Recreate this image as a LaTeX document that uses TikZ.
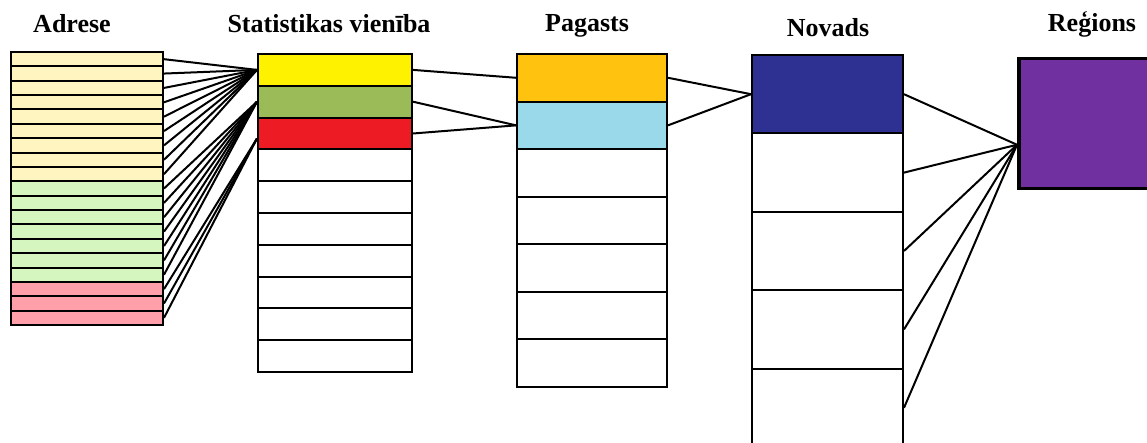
\documentclass[tikz,border=0pt]{standalone}
\usepackage{fontspec}
\setmainfont{Liberation Serif}
\usepackage{xcolor}
\usepackage{tikz}
\definecolor{adrY}{HTML}{FFF5C0}
\definecolor{adrG}{HTML}{D5F7BF}
\definecolor{adrR}{HTML}{FF9FAA}
\definecolor{statY}{HTML}{FFF200}
\definecolor{statG}{HTML}{9BBB59}
\definecolor{statR}{HTML}{ED1C24}
\definecolor{pagO}{HTML}{FFC20E}
\definecolor{pagB}{HTML}{99D9EA}
\definecolor{novB}{HTML}{2E3192}
\definecolor{regP}{HTML}{7030A0}
\tikzset{
  cella/.style={draw, rectangle, inner sep=0pt, line width=2pt},
  adr/.style={cella, minimum width=152pt, minimum height=14.37pt},
  stat/.style={cella, minimum width=154pt, minimum height=31.8pt},
  pag/.style={cella, minimum width=150pt, minimum height=47.57pt},
  nov/.style={cella, minimum width=151pt, minimum height=78.4pt},
  titolo/.style={font=\fontsize{26}{30}\selectfont\bfseries, anchor=base, inner sep=0pt},
  linea/.style={line width=2pt}
}

\begin{document}
\begin{tikzpicture}[x=1pt, y=-1pt]
    \useasboundingbox (0,0) rectangle (1147,443);
    \clip (0,0) rectangle (1147,443);

    % Titoli
    \node[titolo] (tAdr) at (72,33) {Adrese};
    \node[titolo] (tStat) at (329,33) {Statistikas vienība};
    \node[titolo] (tPag) at (587,32) {Pagasts};
    \node[titolo] (tNov) at (828,37) {Novads};
    \node[titolo] (tReg) at (1092,32) {Reģions};

    % Adrese
    \foreach \i in {1,...,9} \node[adr, fill=adrY] (a\i) at (87,{52+14.37*(\i-0.5)}) {};
    \foreach \i in {10,...,16} \node[adr, fill=adrG] (a\i) at (87,{52+14.37*(\i-0.5)}) {};
    \foreach \i in {17,18,19} \node[adr, fill=adrR] (a\i) at (87,{52+14.37*(\i-0.5)}) {};

    % Statistikas vieniba
    \node[stat, fill=statY] (s1) at (335,{54+31.8*0.5}) {};
    \node[stat, fill=statG] (s2) at (335,{54+31.8*1.5}) {};
    \node[stat, fill=statR] (s3) at (335,{54+31.8*2.5}) {};
    \foreach \i in {4,...,10} \node[stat, fill=white] (s\i) at (335,{54+31.8*(\i-0.5)}) {};
    \coordinate (s3in) at ([yshift=-5pt]s3.west);

    % Pagasts
    \node[pag, fill=pagO] (p1) at (592,{54+47.57*0.5}) {};
    \node[pag, fill=pagB] (p2) at (592,{54+47.57*1.5}) {};
    \foreach \i in {3,...,7} \node[pag, fill=white] (p\i) at (592,{54+47.57*(\i-0.5)}) {};

    % Novads
    \node[nov, fill=novB] (n1) at (827.5,{55+78.4*0.5}) {};
    \foreach \i in {2,...,5} \node[nov, fill=white] (n\i) at (827.5,{55+78.4*(\i-0.5)}) {};

    % Regions
    \node[cella, line width=3.5pt, fill=regP, anchor=north west, minimum width=160pt, minimum height=130pt] (r) at (1017,57) {};
    \coordinate (rin) at ([yshift=-21pt]r.west);

    % Collegamenti
    \foreach \i in {1,...,9} \draw[linea] (a\i.east) -- (s1.west);
    \foreach \i in {10,...,16} \draw[linea] (a\i.east) -- (s2.west);
    \foreach \i in {17,18,19} \draw[linea] (a\i.east) -- (s3in);

    \draw[linea] (s1.east) -- (p1.west);
    \draw[linea] (s2.east) -- (p2.west);
    \draw[linea] (s3.east) -- (p2.west);

    \draw[linea] (p1.east) -- (n1.west);
    \draw[linea] (p2.east) -- (n1.west);

    \foreach \i in {1,...,5} \draw[linea] (n\i.east) -- (rin);
\end{tikzpicture}
\end{document}
